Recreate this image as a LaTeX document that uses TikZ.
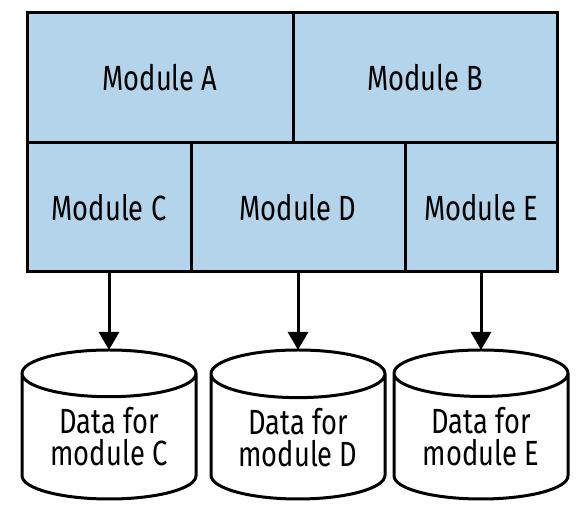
\documentclass[tikz,border=0pt]{standalone}
\usepackage{fontspec}
\setmainfont{Fira Sans}[FakeStretch=0.78]
\usepackage{xcolor}
\usetikzlibrary{arrows.meta, positioning, shapes.geometric}
\definecolor{modblue}{RGB}{179,212,234}

\begin{document}
\begin{tikzpicture}[
  x=1pt, y=1pt,
  node distance = 78pt,
  module/.style = {draw, rectangle, line width=3pt, fill=modblue,
                   minimum height=130pt, inner sep=0pt, outer sep=0pt,
                   font=\fontsize{35}{32}\selectfont},
  store/.style  = {draw, cylinder, shape border rotate=90, aspect=0.4,
                   line width=3pt, minimum width=174pt, minimum height=149pt,
                   inner sep=0pt, outer sep=0pt, align=center,
                   font=\fontsize{35}{32}\selectfont},
  arr/.style    = {-{Triangle[width=20pt, length=18pt]}, line width=3pt},
]
\useasboundingbox (0,0) rectangle (583,510);

% top row
\node[module, minimum width=266pt] (A) at (160,432) {Module A};
\node[module, minimum width=264pt, right=0pt of A] (B) {Module B};

% second row
\node[module, minimum width=164pt, minimum height=129pt, anchor=north west] (C) at (A.south west) {Module C};
\node[module, minimum width=214pt, minimum height=129pt, right=0pt of C] (D) {Module D};
\node[module, minimum width=152pt, minimum height=129pt, right=0pt of D] (E) {Module E};

% one data store per module
\node[store, below=of C] (dataC) {Data for\\module C};
\node[store, below=of D] (dataD) {Data for\\module D};
\node[store, below=of E] (dataE) {Data for\\module E};

\draw[arr] (C) -- (dataC);
\draw[arr] (D) -- (dataD);
\draw[arr] (E) -- (dataE);

\end{tikzpicture}
\end{document}
